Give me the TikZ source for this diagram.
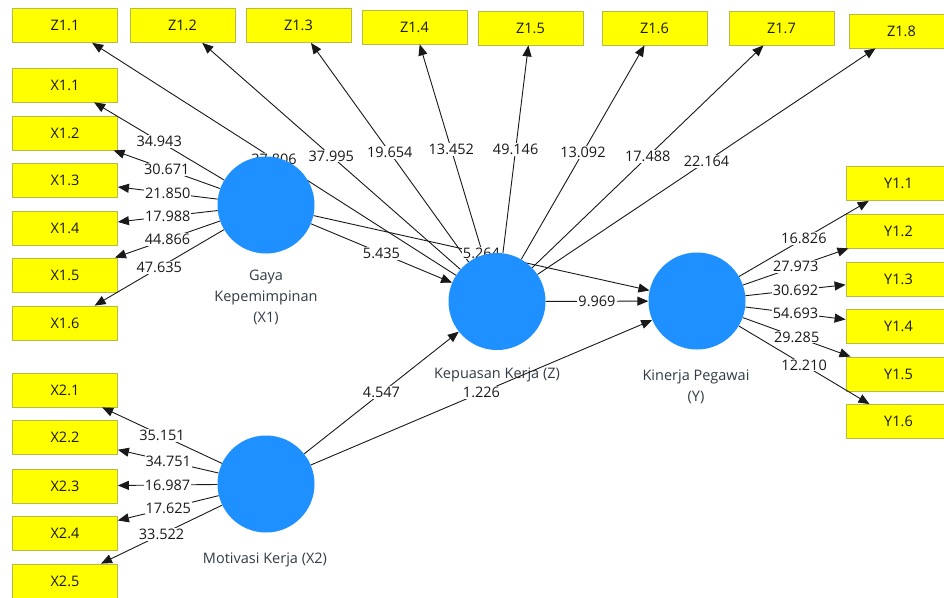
\documentclass[tikz,border=0pt]{standalone}
\usepackage{fontspec}
\setmainfont{Open Sans}
\usetikzlibrary{arrows.meta}
\pgfdeclarelayer{front}
\pgfsetlayers{main,front}
\definecolor{boxfill}{RGB}{255,255,0}
\definecolor{boxline}{RGB}{185,185,70}
\definecolor{lvblue}{RGB}{30,144,255}
\definecolor{ink}{RGB}{25,25,25}
\definecolor{lvtext}{RGB}{50,60,70}
\begin{document}
\begin{tikzpicture}[x=1pt,y=-1pt,
  font=\fontsize{14.5}{21}\selectfont,
  ind/.style={draw=boxline, fill=boxfill, minimum width=105pt, minimum height=34pt, inner sep=0pt, text=ink, line width=0.8pt},
  lvnode/.style={circle, fill=lvblue, minimum size=97pt, inner sep=0pt},
  arr/.style={draw=ink, line width=0.9pt, -{Triangle[length=11pt,width=9pt]}},
  lbl/.style={fill=white, inner sep=1pt, text=ink, midway},
  lvlbl/.style={text=lvtext, align=center, inner sep=0pt}]
\useasboundingbox (0,0) rectangle (944,597);
\clip (0,0) rectangle (944,597);
\fill[white] (0,0) rectangle (944,597);

% indicator boxes
\node[ind] (Z11) at (65,25.5) {Z1.1};
\node[ind] (Z12) at (182.5,25.5) {Z1.2};
\node[ind] (Z13) at (298.5,25.5) {Z1.3};
\node[ind] (Z14) at (414.5,27) {Z1.4};
\node[ind] (Z15) at (530.5,28) {Z1.5};
\node[ind] (Z16) at (654.5,28) {Z1.6};
\node[ind] (Z17) at (781.5,28) {Z1.7};
\node[ind] (Z18) at (901.5,31) {Z1.8};

\node[ind] (X11) at (65,85) {X1.1};
\node[ind] (X12) at (65,133) {X1.2};
\node[ind] (X13) at (65,180.5) {X1.3};
\node[ind] (X14) at (65,228) {X1.4};
\node[ind] (X15) at (65,275) {X1.5};
\node[ind] (X16) at (65,323) {X1.6};

\node[ind] (X21) at (65,390) {X2.1};
\node[ind] (X22) at (65,437.5) {X2.2};
\node[ind] (X23) at (65,486) {X2.3};
\node[ind] (X24) at (65,533.5) {X2.4};
\node[ind] (X25) at (65,581) {X2.5};

\node[ind] (Y11) at (898.5,183.5) {Y1.1};
\node[ind] (Y12) at (898.5,231) {Y1.2};
\node[ind] (Y13) at (898.5,279) {Y1.3};
\node[ind] (Y14) at (898.5,326) {Y1.4};
\node[ind] (Y15) at (898.5,374) {Y1.5};
\node[ind] (Y16) at (898.5,421.5) {Y1.6};

% latent variables (front layer)
\begin{pgfonlayer}{front}
\node[lvnode] (X1) at (266,205) {};
\node[lvnode] (Z) at (497,301.5) {};
\node[lvnode] (Y) at (697,301) {};
\node[lvnode] (X2) at (266,484) {};
\end{pgfonlayer}

\node[lvlbl] (X1lbl) at (266,297) {Gaya\\Kepemimpinan\\(X1)};
\node[lvlbl] (Zlbl) at (497,375) {Kepuasan Kerja (Z)};
\node[lvlbl] (Ylbl) at (696,387) {Kinerja Pegawai\\(Y)};
\node[lvlbl] (X2lbl) at (265,560) {Motivasi Kerja (X2)};

% X1 indicators
\draw[arr] (X1) -- node[lbl]{34.943} (X11);
\draw[arr] (X1) -- node[lbl]{30.671} (X12);
\draw[arr] (X1) -- node[lbl]{21.850} (X13);
\draw[arr] (X1) -- node[lbl]{17.988} (X14);
\draw[arr] (X1) -- node[lbl]{44.866} (X15);
\draw[arr] (X1) -- node[lbl]{47.635} (X16);

% X2 indicators
\draw[arr] (X2) -- node[lbl]{35.151} (X21);
\draw[arr] (X2) -- node[lbl]{34.751} (X22);
\draw[arr] (X2) -- node[lbl]{16.987} (X23);
\draw[arr] (X2) -- node[lbl]{17.625} (X24);
\draw[arr] (X2) -- node[lbl]{33.522} (X25);

% Z indicators
\draw[arr] (Z) -- node[lbl]{37.806} (Z11);
\draw[arr] (Z) -- node[lbl]{37.995} (Z12);
\draw[arr] (Z) -- node[lbl]{19.654} (Z13);
\draw[arr] (Z) -- node[lbl]{13.452} (Z14);
\draw[arr] (Z) -- node[lbl]{49.146} (Z15);
\draw[arr] (Z) -- node[lbl]{13.092} (Z16);
\draw[arr] (Z) -- node[lbl]{17.488} (Z17);
\draw[arr] (Z) -- node[lbl]{22.164} (Z18);

% Y indicators
\draw[arr] (Y) -- node[lbl]{16.826} (Y11);
\draw[arr] (Y) -- node[lbl]{27.973} (Y12);
\draw[arr] (Y) -- node[lbl]{30.692} (Y13);
\draw[arr] (Y) -- node[lbl]{54.693} (Y14);
\draw[arr] (Y) -- node[lbl]{29.285} (Y15);
\draw[arr] (Y) -- node[lbl]{12.210} (Y16);

% structural paths
\draw[arr] (X1) -- node[lbl]{5.435} (Z);
\draw[arr] (X1) -- node[lbl]{5.264} (Y);
\draw[arr] (Z) -- node[lbl]{9.969} (Y);
\draw[arr] (X2) -- node[lbl]{4.547} (Z);
\draw[arr] (X2) -- node[lbl]{1.226} (Y);
\end{tikzpicture}
\end{document}
